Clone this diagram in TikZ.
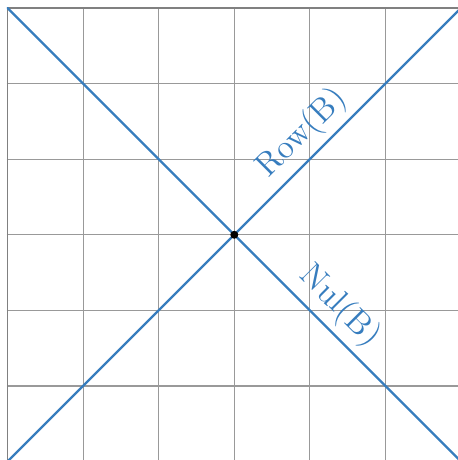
\documentclass[tikz,border=0pt]{standalone}
\usepackage{amsmath,amssymb}
\usepackage{tikz}
\usetikzlibrary{calc}
\definecolor{lineblue}{RGB}{55,125,190}

\begin{document}
\begin{tikzpicture}[line join=round, line cap=round, font=\fontsize{12.5}{14}\selectfont, x=1cm, y=1cm]
    \useasboundingbox (-3.1, -2.98) rectangle (2.954, 3.106);
    % Lưới
    \draw[gray!80, line width=0.45pt] (-3, -3) grid (3, 3);
    \draw[gray, line width=0.6pt] (-3, -3) -- (-3, 3) -- (3, 3);
    
    % Hai đường thẳng
    \coordinate (O) at (0, 0);
    \coordinate (A1) at (-3, -3);
    \coordinate (A2) at (3, 3);
    \coordinate (B1) at (-3, 3);
    \coordinate (B2) at (3, -3);
    \draw[lineblue, line width=0.85pt] (A1) -- (A2);
    \draw[lineblue, line width=0.85pt] (B1) -- (B2);
    
    % Nhãn
    \node[lineblue, rotate=45, anchor=south, inner sep=2.5pt] (row) at (1.12, 1.12) {Row(B)};
    \node[lineblue, rotate=-45, anchor=south, inner sep=2.5pt] (nul) at (1.17, -1.17) {Nul(B)};
    
    \fill[black] (O) circle (1.5pt);
\end{tikzpicture}
\end{document}
